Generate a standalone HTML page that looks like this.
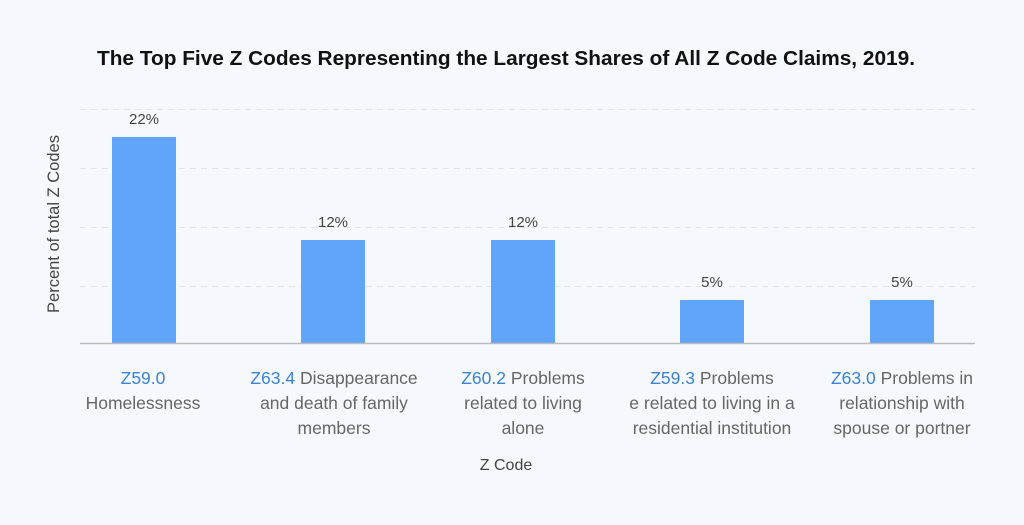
<!DOCTYPE html>
<html><head><style>
body{margin:0;width:1024px;height:520px;background:#f5f9fd;font-family:"Liberation Sans",sans-serif;overflow:hidden}
</style></head><body>
<svg width="1024" height="520" xmlns="http://www.w3.org/2000/svg" font-family="Liberation Sans, sans-serif">
<rect width="1024" height="520" fill="#f5f9fd"/>
<text x="506" y="65" text-anchor="middle" font-size="20.5" font-weight="bold" fill="#111" textLength="818" lengthAdjust="spacingAndGlyphs">The Top Five Z Codes Representing the Largest Shares of All Z Code Claims, 2019.</text>
<g stroke="#e2e4e8" stroke-dasharray="6,5" stroke-width="1">
<line x1="80" x2="975" y1="109.5" y2="109.5"/>
<line x1="80" x2="975" y1="168.5" y2="168.5"/>
<line x1="80" x2="975" y1="227.5" y2="227.5"/>
<line x1="80" x2="975" y1="286.5" y2="286.5"/>
</g>
<g fill="#60a5fa">
<rect x="112" y="137" width="64" height="206"/>
<rect x="301" y="240" width="64" height="103"/>
<rect x="491" y="240" width="64" height="103"/>
<rect x="680" y="300" width="64" height="43"/>
<rect x="870" y="300" width="64" height="43"/>
</g>
<line x1="80" x2="975" y1="343.5" y2="343.5" stroke="#bbb" stroke-width="1.5"/>
<g font-size="15" fill="#444" text-anchor="middle">
<text x="144" y="124">22%</text>
<text x="333" y="227">12%</text>
<text x="523" y="227">12%</text>
<text x="712" y="287">5%</text>
<text x="902" y="287">5%</text>
</g>
<text transform="translate(59,224) rotate(-90)" text-anchor="middle" font-size="16.5" fill="#444">Percent of total Z Codes</text>
<g font-size="17.5" fill="#666" text-anchor="middle">
<text x="143" y="384"><tspan fill="#3b82d6">Z59.0</tspan></text>
<text x="143" y="409">Homelessness</text>
<text x="334" y="384"><tspan fill="#3b82d6">Z63.4</tspan> Disappearance</text>
<text x="334" y="409">and death of family</text>
<text x="334" y="434">members</text>
<text x="523" y="384"><tspan fill="#3b82d6">Z60.2</tspan> Problems</text>
<text x="523" y="409">related to living</text>
<text x="523" y="434">alone</text>
<text x="712" y="384"><tspan fill="#3b82d6">Z59.3</tspan> Problems</text>
<text x="712" y="409">e related to living in a</text>
<text x="712" y="434">residential institution</text>
<text x="902" y="384"><tspan fill="#3b82d6">Z63.0</tspan> Problems in</text>
<text x="902" y="409">relationship with</text>
<text x="902" y="434">spouse or portner</text>
<text x="506" y="470" font-size="16" fill="#444">Z Code</text>
</g>
</svg>
</body></html>
